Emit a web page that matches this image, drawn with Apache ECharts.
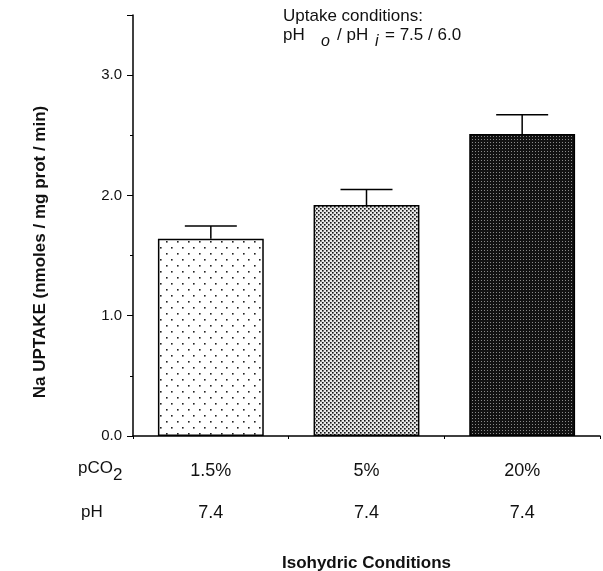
<!DOCTYPE html>
<html>
<head>
<meta charset="utf-8">
<script src="https://cdn.jsdelivr.net/npm/echarts@6/dist/echarts.min.js"></script>
<style>
  html, body { margin: 0; padding: 0; background: #fff; }
  #chart { width: 603px; height: 571px; }
</style>
</head>
<body>
<div id="chart"></div>
<script>
// pCO2 conditions (x categories) and the pH row printed under them
const pco2Labels = ["1.5%", "5%", "20%"];
const phLabels = ["7.4", "7.4", "7.4"];
// Na uptake (nmoles / mg prot / min) and its error (upper whisker only)
const uptake = [1.64, 1.92, 2.51];
const uptakeErr = [0.105, 0.13, 0.16];

const FONT = "Liberation Sans, Arial, Helvetica, sans-serif";

// small canvas tiles used as stipple fills for the bars
function makeTile(w, h, bg, dots, dotColor, size) {
    const c = document.createElement("canvas");
    c.width = w;
    c.height = h;
    const ctx = c.getContext("2d");
    ctx.fillStyle = bg;
    ctx.fillRect(0, 0, w, h);
    ctx.fillStyle = dotColor;
    dots.forEach(([x, y]) => ctx.fillRect(x, y, size, size));
    return { image: c, repeat: "repeat" };
}

const fills = [
    makeTile(11, 12, "#ffffff", [[1, 1], [6, 7]], "#222222", 1.6),
    makeTile(4, 4, "#e8e8e8", [[0, 0], [2, 2]], "#111111", 1.6),
    makeTile(3, 3, "#121212", [[1, 1]], "#8a8a8a", 1),
];

const chart = echarts.init(document.getElementById("chart"), null, { renderer: "canvas" });

const option = {
    backgroundColor: "#ffffff",
    animation: false,
    textStyle: { fontFamily: FONT },
    grid: { left: 133, right: 3, top: 15, bottom: 135, outerBoundsMode: "none", containLabel: false },
    xAxis: {
        type: "category",
        data: pco2Labels,
        axisLine: { lineStyle: { color: "#000", width: 1.5 } },
        axisTick: { show: true, inside: false, length: 3, lineStyle: { color: "#000" } },
        axisLabel: {
            color: "#111",
            fontSize: 18,
            lineHeight: 42,
            margin: 14,
            formatter: (v, i) => v + "\n" + phLabels[i],
        },
        name: "Isohydric Conditions",
        nameLocation: "middle",
        nameGap: 119,
        nameTextStyle: { fontSize: 17, fontWeight: "bold", color: "#111" },
    },
    yAxis: [
        {
            // minor ticks every 0.5, carries the axis line
            type: "value",
            min: 0,
            max: 3.5,
            interval: 0.5,
            axisLine: { show: true, lineStyle: { color: "#000", width: 1.5 } },
            axisTick: { show: true, length: 3, lineStyle: { color: "#000" } },
            axisLabel: { show: false },
            splitLine: { show: false },
        },
        {
            // major ticks and labels every 1.0
            type: "value",
            position: "left",
            min: 0,
            max: 3.5,
            interval: 1,
            axisLine: { show: false },
            axisTick: { show: true, length: 6, lineStyle: { color: "#000" } },
            axisLabel: {
                color: "#111",
                fontSize: 15,
                margin: 11,
                formatter: (v) => (v % 1 === 0 ? v.toFixed(1) : ""),
            },
            splitLine: { show: false },
        },
    ],
    series: [
        {
            type: "bar",
            yAxisIndex: 0,
            barWidth: "68%",
            data: uptake.map((v, i) => ({
                value: v,
                itemStyle: { color: fills[i], borderColor: "#000", borderWidth: 1.5 },
            })),
            z: 2,
        },
        {
            type: "custom",
            yAxisIndex: 0,
            z: 3,
            data: uptake.map((v, i) => [i, v, v + uptakeErr[i]]),
            renderItem: (params, api) => {
                const base = api.coord([api.value(0), api.value(1)]);
                const top = api.coord([api.value(0), api.value(2)]);
                const half = api.size([1, 0])[0] * 0.167;
                const style = { stroke: "#000", lineWidth: 1.5 };
                return {
                    type: "group",
                    children: [
                        { type: "line", shape: { x1: base[0], y1: base[1], x2: top[0], y2: top[1] }, style },
                        { type: "line", shape: { x1: top[0] - half, y1: top[1], x2: top[0] + half, y2: top[1] }, style },
                    ],
                };
            },
        },
    ],
    graphic: [
        {
            type: "text",
            x: 40, y: 252,
            rotation: Math.PI / 2,
            style: {
                text: "Na UPTAKE (nmoles / mg prot / min)",
                font: "bold 17px " + FONT,
                fill: "#111",
                textAlign: "center",
                textVerticalAlign: "middle",
            },
        },
        // row labels under the axis
        { type: "text", x: 78, y: 468, style: { text: "pCO", font: "17px " + FONT, fill: "#111", textVerticalAlign: "middle" } },
        { type: "text", x: 113, y: 475, style: { text: "2", font: "17px " + FONT, fill: "#111", textVerticalAlign: "middle" } },
        { type: "text", x: 81, y: 512, style: { text: "pH", font: "17px " + FONT, fill: "#111", textVerticalAlign: "middle" } },
        // uptake conditions note
        { type: "text", x: 283, y: 16, style: { text: "Uptake conditions:", font: "17px " + FONT, fill: "#111", textVerticalAlign: "middle" } },
        { type: "text", x: 283, y: 35, style: { text: "pH", font: "17px " + FONT, fill: "#111", textVerticalAlign: "middle" } },
        { type: "text", x: 321, y: 42, style: { text: "o", font: "italic 16px " + FONT, fill: "#111", textVerticalAlign: "middle" } },
        { type: "text", x: 337, y: 35, style: { text: "/ pH", font: "17px " + FONT, fill: "#111", textVerticalAlign: "middle" } },
        { type: "text", x: 375, y: 42, style: { text: "i", font: "italic 16px " + FONT, fill: "#111", textVerticalAlign: "middle" } },
        { type: "text", x: 385, y: 35, style: { text: "= 7.5 / 6.0", font: "17px " + FONT, fill: "#111", textVerticalAlign: "middle" } },
    ],
};

chart.setOption(option);
</script>
</body>
</html>
